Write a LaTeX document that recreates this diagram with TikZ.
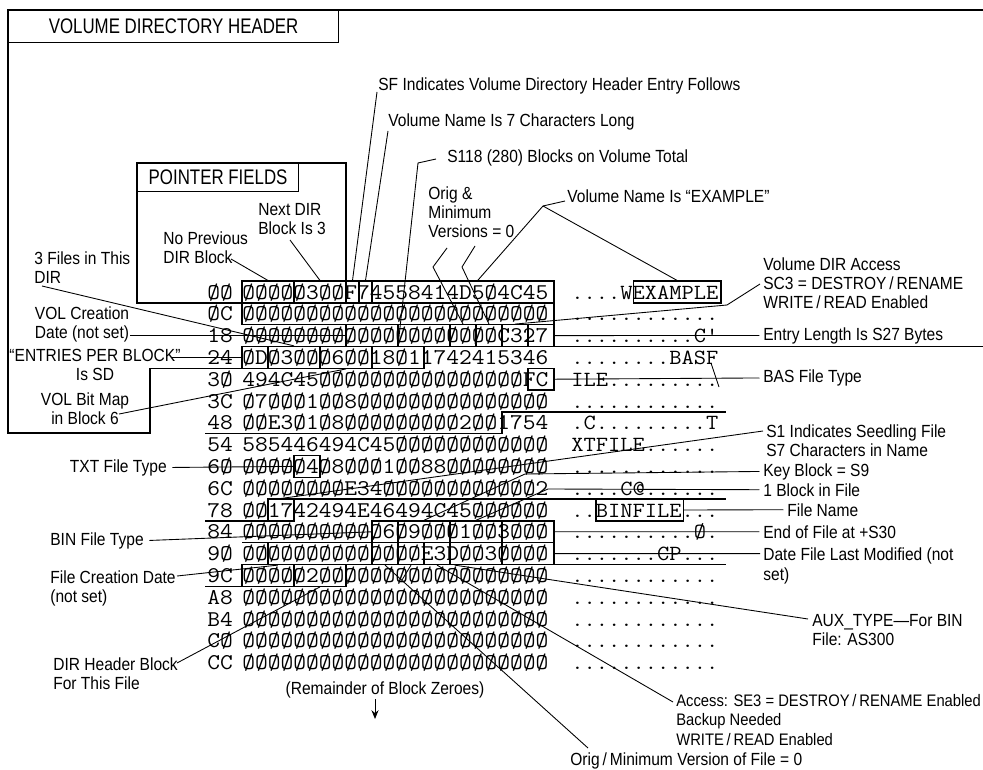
\documentclass[tikz,border=0pt]{standalone}
\usepackage{fontspec}
\setmainfont{Liberation Sans}[FakeStretch=0.885]
\newfontfamily\hexfont{Latin Modern Mono}[FakeStretch=1.1]
\newfontfamily\capfont{Liberation Sans}[FakeStretch=0.8]
\usetikzlibrary{arrows.meta,calc}

\newcommand{\zf}{ØØØØ}
% box round hex characters #2 .. #2+#3 of row #4
\newcommand{\cellbox}[4]{%
  \node[hexcell, minimum width=#3*0.26cm] (#1) at ({242+13*#2+6.5*#3},{292+21.8*#4}) {};}

\tikzset{
  lbl/.style={font=\fontsize{10}{11}\selectfont, inner sep=0pt},
  titlebox/.style={draw, line width=0.7pt, inner sep=0pt, font=\capfont\fontsize{12}{14}\selectfont},
  hexrow/.style={font=\hexfont\fontsize{12.81}{14}\selectfont, inner sep=0pt, anchor=base west},
  ascrow/.style={font=\hexfont\fontsize{12.31}{14}\selectfont, inner sep=0pt, anchor=base west},
  hexcell/.style={draw, line width=0.7pt, inner sep=0pt, minimum height=0.436cm},
  regionline/.style={line width=0.7pt},
  leader/.style={line width=0.5pt},
}

\begin{document}
\begin{tikzpicture}[x=0.02cm,y=-0.02cm,>=Stealth]
  \useasboundingbox (0,0) rectangle (983,770);

  % volume directory header and pointer fields
  \draw[regionline] (983,10) -- (8,10) -- (8,433) -- (150,433) -- (150,368.3)
    -- (424,368.3) -- (424,346.5) -- (983,346.5);
  \node[titlebox, minimum width=6.6cm, minimum height=0.64cm, anchor=north west] (tVDH) at (8,10) {VOLUME DIRECTORY HEADER};
  \draw[regionline] (242,302.9) -- (137,302.9) -- (137,163) -- (346,163) -- (346,281.1);
  \node[titlebox, minimum width=3.22cm, minimum height=0.56cm, anchor=north west] (tPtr) at (137,163) {POINTER FIELDS};

  % the dump
  \node[hexrow] (rl00) at (207,299)   {ØØ};
  \node[hexrow] (rl0C) at (207,320.8) {ØC};
  \node[hexrow] (rl18) at (207,342.6) {18};
  \node[hexrow] (rl24) at (207,364.4) {24};
  \node[hexrow] (rl30) at (207,386.2) {3Ø};
  \node[hexrow] (rl3C) at (207,408)   {3C};
  \node[hexrow] (rl48) at (207,429.8) {48};
  \node[hexrow] (rl54) at (207,451.6) {54};
  \node[hexrow] (rl60) at (207,473.4) {6Ø};
  \node[hexrow] (rl6C) at (207,495.2) {6C};
  \node[hexrow] (rl78) at (207,517)   {78};
  \node[hexrow] (rl84) at (207,538.8) {84};
  \node[hexrow] (rl90) at (207,560.6) {9Ø};
  \node[hexrow] (rl9C) at (207,582.4) {9C};
  \node[hexrow] (rlA8) at (207,604.2) {A8};
  \node[hexrow] (rlB4) at (207,626)   {B4};
  \node[hexrow] (rlC0) at (207,647.8) {CØ};
  \node[hexrow] (rlCC) at (207,669.6) {CC};

  \node[hexrow] (hx00) at (242,299)   {\zf Ø3ØØF74558414D5Ø4C45};
  \node[hexrow] (hx0C) at (242,320.8) {\zf\zf\zf\zf\zf\zf};
  \node[hexrow] (hx18) at (242,342.6) {\zf\zf\zf\zf\zf{}C327};
  \node[hexrow] (hx24) at (242,364.4) {ØDØ3ØØØ6ØØ18Ø11742415346};
  \node[hexrow] (hx30) at (242,386.2) {494C45\zf\zf\zf\zf{}FC};
  \node[hexrow] (hx3C) at (242,408)   {Ø7ØØØ1ØØ8Ø\zf\zf\zf{}ØØ};
  \node[hexrow] (hx48) at (242,429.8) {ØØE3Ø1Ø8\zf\zf{}Ø2ØØ1754};
  \node[hexrow] (hx54) at (242,451.6) {585446494C45\zf\zf\zf};
  \node[hexrow] (hx60) at (242,473.4) {\zf{}Ø4Ø8ØØØ1ØØ88ØØ\zf{}ØØ};
  \node[hexrow] (hx6C) at (242,495.2) {\zf\zf{}E34Ø\zf\zf{}ØØØ2};
  \node[hexrow] (hx78) at (242,517)   {ØØ1742494E46494C45ØØ\zf};
  \node[hexrow] (hx84) at (242,538.8) {\zf\zf{}ØØØ6Ø9ØØØ1ØØ3ØØØ};
  \node[hexrow] (hx90) at (242,560.6) {\zf\zf\zf{}ØØE3DØØ3\zf};
  \node[hexrow] (hx9C) at (242,582.4) {ØØØØØ2ØØ\zf\zf\zf\zf};
  \node[hexrow] (hxA8) at (242,604.2) {\zf\zf\zf\zf\zf\zf};
  \node[hexrow] (hxB4) at (242,626)   {\zf\zf\zf\zf\zf\zf};
  \node[hexrow] (hxC0) at (242,647.8) {\zf\zf\zf\zf\zf\zf};
  \node[hexrow] (hxCC) at (242,669.6) {\zf\zf\zf\zf\zf\zf};

  \node[ascrow] (as00) at (571,299)   {....WEXAMPLE};
  \node[ascrow] (as0C) at (571,320.8) {............};
  \node[ascrow] (as18) at (571,342.6) {..........C'};
  \node[ascrow] (as24) at (571,364.4) {........BASF};
  \node[ascrow] (as30) at (571,386.2) {ILE.........};
  \node[ascrow] (as3C) at (571,408)   {............};
  \node[ascrow] (as48) at (571,429.8) {.C.........T};
  \node[ascrow] (as54) at (571,451.6) {XTFILE......};
  \node[ascrow] (as60) at (571,473.4) {............};
  \node[ascrow] (as6C) at (571,495.2) {....C@......};
  \node[ascrow] (as78) at (571,517)   {..BINFILE...};
  \node[ascrow] (as84) at (571,538.8) {..........Ø.};
  \node[ascrow] (as90) at (571,560.6) {.......CP...};
  \node[ascrow] (as9C) at (571,582.4) {............};
  \node[ascrow] (asA8) at (571,604.2) {............};
  \node[ascrow] (asB4) at (571,626)   {............};
  \node[ascrow] (asC0) at (571,647.8) {............};
  \node[ascrow] (asCC) at (571,669.6) {............};

  % field boxes
  \cellbox{prev}{0}{4}{0} \cellbox{next}{4}{4}{0} \cellbox{stype}{8}{1}{0}
  \cellbox{nlen}{9}{1}{0} \cellbox{vname}{10}{14}{0}
  \cellbox{vname2}{0}{24}{1}
  \cellbox{cdate}{8}{4}{2} \cellbox{ctime}{12}{4}{2} \cellbox{vers}{16}{2}{2}
  \cellbox{minv}{18}{2}{2} \cellbox{vacc}{20}{2}{2} \cellbox{elen}{22}{2}{2}
  \cellbox{epb}{0}{2}{3} \cellbox{fcnt}{2}{4}{3} \cellbox{bmap}{6}{4}{3} \cellbox{tblk}{10}{4}{3}
  \cellbox{bastype}{22}{2}{4}
  \cellbox{txttype}{4}{2}{8}
  \cellbox{slen}{2}{2}{10}
  \cellbox{bintype}{10}{2}{11} \cellbox{keyp}{12}{4}{11} \cellbox{blks}{16}{4}{11} \cellbox{eof}{20}{4}{11}
  \cellbox{fcdate}{2}{8}{12} \cellbox{fvers}{10}{2}{12} \cellbox{fminv}{12}{2}{12}
  \cellbox{facc}{14}{2}{12} \cellbox{aux}{16}{4}{12} \cellbox{fmod}{20}{4}{12}
  \cellbox{fmod2}{0}{4}{13} \cellbox{hdrp}{4}{4}{13}
  \node[hexcell, minimum width=1.748cm] (exbox) at (677.2,292) {};
  \node[hexcell, minimum width=1.748cm] (binbox) at (639.7,510) {};

  % entry boundaries
  \draw[regionline] (205,433.7) -- (502,433.7) -- (502,411.9) -- (726,411.9);
  \draw[regionline] (205,520.9) -- (268,520.9) -- (268,499.1) -- (726,499.1);
  \draw[regionline] (205,586.3) -- (346,586.3) -- (346,564.5) -- (726,564.5);
  \draw[regionline] (242,542.7) -- (268,542.7);

  % labels
  \node[lbl, anchor=north west, align=left] (lFiles) at (34,251) {3 Files in This\\DIR};
  \node[lbl, anchor=north west, align=left] (lNoPrev) at (163,231) {No Previous\\DIR Block};
  \node[lbl, anchor=north west, align=left] (lNext) at (258,203) {Next DIR\\Block Is 3};
  \node[lbl, anchor=north west, align=left] (lOrig) at (428,186) {Orig \&\\Minimum\\Versions = 0};
  \node[lbl, anchor=base west] (lSF) at (378,91) {SF Indicates Volume Directory Header Entry Follows};
  \node[lbl, anchor=base west] (lLen7) at (388,127) {Volume Name Is 7 Characters Long};
  \node[lbl, anchor=base west] (lBlocks) at (447,163) {S118 (280) Blocks on Volume Total};
  \node[lbl, anchor=base west] (lVolName) at (567,203) {Volume Name Is “EXAMPLE”};
  \node[lbl, anchor=north west, align=left] (lVAcc) at (763,257) {Volume DIR Access\\SC3 = DESTROY\,/\,RENAME\\WRITE\,/\,READ Enabled};
  \node[lbl, anchor=north, align=center] (lCreate) at (82,306) {VOL Creation\\Date (not set)};
  \node[lbl, anchor=base west] (lEntLen) at (763,340) {Entry Length Is S27 Bytes};
  \node[lbl, anchor=north, align=center] (lEPB) at (95,349) {“ENTRIES PER BLOCK”\\Is SD};
  \node[lbl, anchor=base west] (lBAS) at (763,382.5) {BAS File Type};
  \node[lbl, anchor=north, align=center] (lBitMap) at (85,392) {VOL Bit Map\\in Block 6};
  \node[lbl, anchor=north west, align=left] (lSeed) at (766,424) {S1 Indicates Seedling File\\S7 Characters in Name};
  \node[lbl, anchor=base east] (lTXT) at (167,472) {TXT File Type};
  \node[lbl, anchor=base west] (lKey) at (763,476) {Key Block = S9};
  \node[lbl, anchor=base west] (lOneBlk) at (763,496) {1 Block in File};
  \node[lbl, anchor=base west] (lFName) at (787,516) {File Name};
  \node[lbl, anchor=base west] (lBIN) at (50,545) {BIN File Type};
  \node[lbl, anchor=base west] (lEOF) at (763,538) {End of File at +S30};
  \node[lbl, anchor=north west, align=left] (lModDate) at (763,547.6) {Date File Last Modified (not\\set)};
  \node[lbl, anchor=north west, align=left] (lFCreate) at (50,570) {File Creation Date\\(not set)};
  \node[lbl, anchor=north west, align=left] (lAux) at (812,614) {AUX\_TYPE—For BIN\\File: AS300};
  \node[lbl, anchor=north west, align=left] (lDirHdr) at (53,657) {DIR Header Block\\For This File};
  \node[lbl, anchor=base] (lRemain) at (385,694) {(Remainder of Block Zeroes)};
  \node[lbl, anchor=north west, align=left, font=\fontsize{9.5}{11}\selectfont] (lFAcc) at (676,694) {Access: SE3 = DESTROY\,/\,RENAME Enabled\\Backup Needed\\WRITE\,/\,READ Enabled};
  \node[lbl, anchor=base west] (lFVers) at (570,765) {Orig\,/\,Minimum Version of File = 0};

  % free ends of the leaders
  \coordinate (cFiles) at (42,286);
  \coordinate (cNoPrev) at (231,259);
  \coordinate (cNext) at (290,240);
  \coordinate (cSF) at (377,92);
  \coordinate (cLen7) at (388,131);
  \coordinate (cBlk1) at (436,159);
  \coordinate (cBlk2) at (418,163);
  \coordinate (cOrA1) at (447,248);
  \coordinate (cOrA2) at (433,267);
  \coordinate (cOrB1) at (475,246);
  \coordinate (cOrB2) at (462,267);
  \coordinate (cVN1) at (565,201);
  \coordinate (cVN2) at (543,206);
  \coordinate (cVA1) at (760,284);
  \coordinate (cVA2) at (727,305);
  \coordinate (cCreate) at (130,335.6);
  \coordinate (cEPB) at (172,357.4);
  \coordinate (cBitMap) at (119,414);
  \coordinate (cBack1) at (711,363);
  \coordinate (cBack2) at (719,387);
  \coordinate (cSeed) at (763,431);
  \coordinate (cKey) at (525,474);
  \coordinate (cOne) at (548,489);
  \coordinate (cMod) at (760,553.6);
  \coordinate (cFCr) at (177,576);
  \coordinate (cDirHdr) at (177,663);
  \coordinate (cAux) at (808,619);
  \coordinate (cFAcc) at (673,702);
  \coordinate (cFVers) at (588,748);
  \coordinate (cFMin) at (402,580);
  \coordinate (cArrTop) at (375,699);
  \coordinate (cArrBot) at (375,719);

  % leaders
  \draw[leader] (cNoPrev) -- (prev.north);
  \draw[leader] (cNext) -- (next.north);
  \draw[leader] (cSF) -- (stype.north);
  \draw[leader] (cLen7) -- (nlen.north);
  \draw[leader] (cBlk1) -- (cBlk2) -- (tblk.north);
  \draw[leader] (cOrA1) -- (cOrA2) -- (vers.north);
  \draw[leader] (cOrB1) -- (cOrB2) -- (minv.north);
  \draw[leader] (cVN1) -- (cVN2) -- ($(vname.north west)!0.58!(vname.north east)$);
  \draw[leader] (cVN2) -- (exbox.north);
  \draw[leader] (cVA1) -- (cVA2) -- (vacc.north);
  \draw[leader] ([xshift=-2pt]lEntLen.west) -- (elen.east);
  \draw[leader] ([xshift=-2pt]lBAS.west) -- (bastype.east);
  \draw[leader] (cBack1) -- (cBack2);
  \draw[leader] (cFiles) -- (fcnt.north);
  \draw[leader] (cCreate) -- (cdate.west);
  \draw[leader] (cEPB) -- (epb.west);
  \draw[leader] (cBitMap) -- (bmap.south);
  \draw[leader] ([xshift=3pt]lTXT.east) -- (txttype.west);
  \draw[leader] (cSeed) -- (slen.north);
  \draw[leader] ([xshift=-2pt]lKey.west) -- (cKey) -- (keyp.north);
  \draw[leader] ([xshift=-2pt]lOneBlk.west) -- (cOne) -- (blks.north);
  \draw[leader] (binbox.east) -- ([xshift=-2pt]lFName.west);
  \draw[leader] ([xshift=3pt]lBIN.east) -- (bintype.west);
  \draw[leader] (eof.east) -- ([xshift=-2pt]lEOF.west);
  \draw[leader] (fmod.east) -- (cMod);
  \draw[leader] (cFCr) -- ($(fcdate.south west)!0.1!(fcdate.south east)$);
  \draw[leader] (cDirHdr) -- (hdrp.south);
  \draw[leader] ($(aux.south west)!0.1!(aux.south east)$) -- (cAux);
  \draw[leader] (facc.south) -- (cFAcc);
  \draw[leader] (fvers.south) -- (cFVers);
  \draw[leader] (fminv.south) -- (cFMin);
  \draw[leader,-{Stealth[length=5pt,width=4pt]}] (cArrTop) -- (cArrBot);
\end{tikzpicture}
\end{document}
